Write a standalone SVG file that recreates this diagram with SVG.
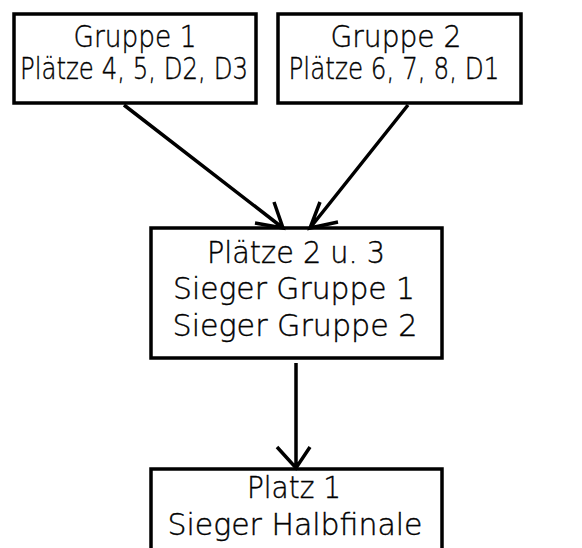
<svg xmlns="http://www.w3.org/2000/svg" width="582" height="548" viewBox="0 0 582 548">
<style>
.box{fill:#fff;stroke:#000;stroke-width:3.5}
.t{font-family:"DejaVu Sans",sans-serif;font-size:29.5px;font-weight:200;fill:#000;stroke:#000;stroke-width:0.4;text-anchor:middle}
.c{stroke:#000;stroke-width:3.5;fill:none}
</style>
<rect width="582" height="548" fill="#fff"/>
<g id="n1">
<rect class="box" x="14" y="14" width="242" height="89"/>
<text class="t" x="135" y="47" textLength="123" lengthAdjust="spacingAndGlyphs">Gruppe 1</text>
<text class="t" x="134" y="79" textLength="228" lengthAdjust="spacingAndGlyphs">Plätze 4, 5, D2, D3</text>
</g>
<g id="n2">
<rect class="box" x="278" y="14" width="243" height="89"/>
<text class="t" x="396" y="47" textLength="131" lengthAdjust="spacingAndGlyphs">Gruppe 2</text>
<text class="t" x="394" y="79" textLength="211" lengthAdjust="spacingAndGlyphs">Plätze 6, 7, 8, D1</text>
</g>
<g id="n3">
<rect class="box" x="151" y="228" width="291" height="130"/>
<text class="t" x="296" y="263" textLength="178" lengthAdjust="spacingAndGlyphs">Plätze 2 u. 3</text>
<text class="t" x="294" y="299" textLength="242" lengthAdjust="spacingAndGlyphs">Sieger Gruppe 1</text>
<text class="t" x="295" y="336" textLength="245" lengthAdjust="spacingAndGlyphs">Sieger Gruppe 2</text>
</g>
<g id="n4">
<path class="box" d="M151,550 V469 H442 V550"/>
<text class="t" x="294" y="498" textLength="94" lengthAdjust="spacingAndGlyphs">Platz 1</text>
<text class="t" x="295" y="535" textLength="255" lengthAdjust="spacingAndGlyphs">Sieger Halbfinale</text>
</g>
<g id="connectors">
<path class="c" d="M124,105 L283,228 M255,223 L283,228 L274,202"/>
<path class="c" d="M408,105 L310,228 M338,222 L310,228 L320,202"/>
<path class="c" d="M296,363 V468 M277,447 L296,468 L310,447"/>
</g>
</svg>
